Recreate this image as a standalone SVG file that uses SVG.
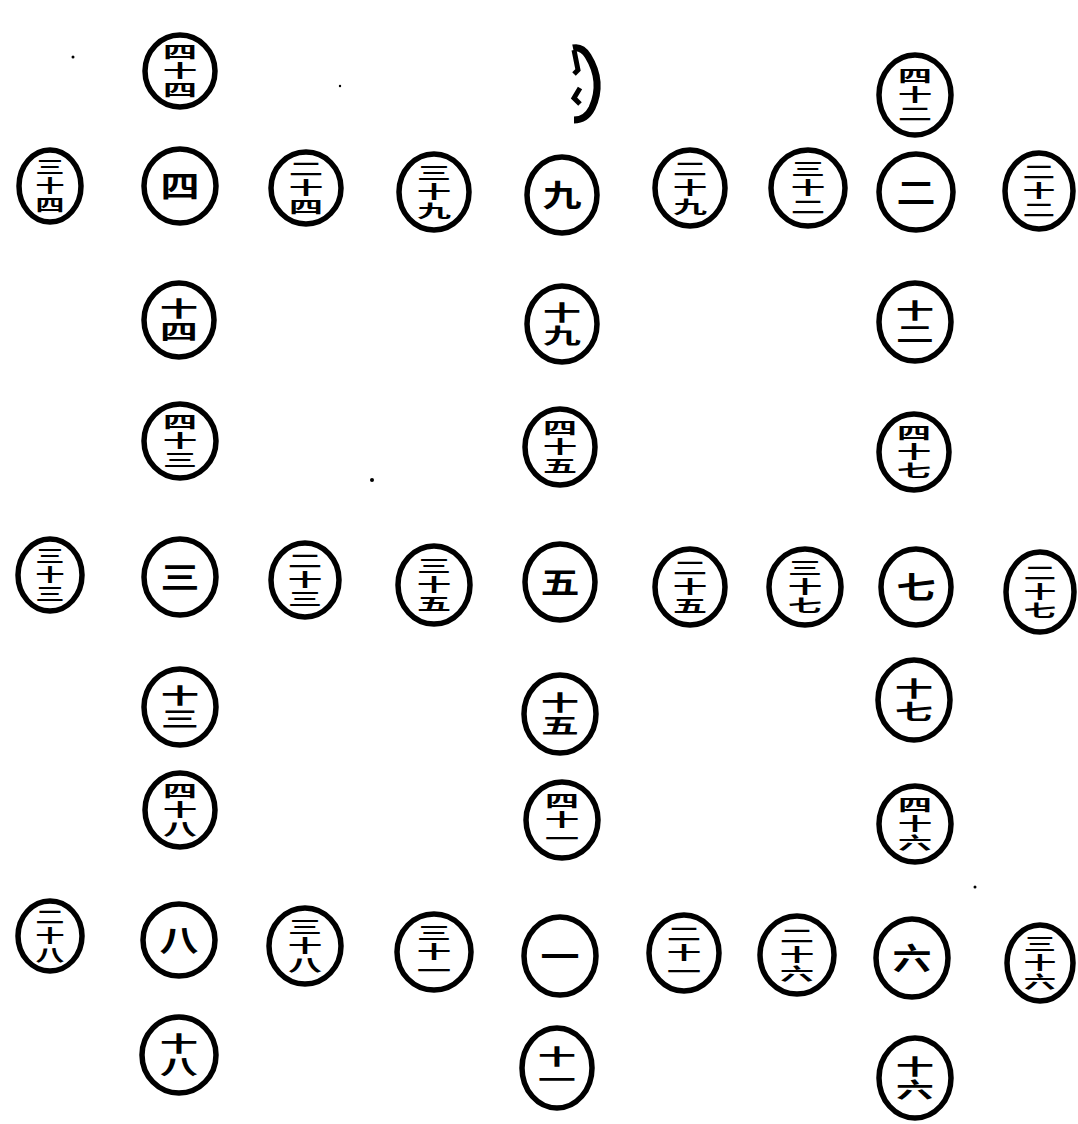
<svg xmlns="http://www.w3.org/2000/svg" width="1078" height="1124" viewBox="0 0 1078 1124">
<style>
.c{fill:#fff;stroke:#000;stroke-width:5.5}
.t{font-family:"Noto Sans CJK SC","Noto Sans CJK TC",sans-serif;font-weight:bold;fill:#000;text-anchor:middle}
.v{writing-mode:vertical-rl;text-orientation:upright;letter-spacing:2px}
.s1{font-size:30px}
.s2{font-size:21px}
.s3{font-size:17px}
</style>
<rect width="1078" height="1124" fill="#fff"/>
<g id="specks" fill="#000">
<circle cx="73" cy="57" r="1.5"/>
<circle cx="340" cy="86" r="1.2"/>
<circle cx="372" cy="480" r="2"/>
<circle cx="975" cy="887" r="1.5"/>
</g>
<g id="connectors"></g>
<!-- row 1 -->
<g id="n44" transform="translate(180,71)"><ellipse class="c" rx="35" ry="36"/><text class="t v s3" x="0" y="1" transform="scale(2 1)">四十四</text></g>
<g id="n49"><path d="M573 48 Q582 46 588 56 Q604 82 592 108 Q586 120 574 120" fill="none" stroke="#000" stroke-width="7"/><path d="M574 50 L578 70 L574 74 M580 88 L574 98 L580 104" fill="none" stroke="#000" stroke-width="5"/></g>
<g id="n42" transform="translate(915,95)"><ellipse class="c" rx="36" ry="40"/><text class="t v s3" x="0" y="1" transform="scale(2 1)">四十二</text></g>
<!-- row 2 -->
<g id="n34" transform="translate(50,186)"><ellipse class="c" rx="31" ry="36"/><text class="t v s3" x="0" y="1" transform="scale(1.7 1)">三十四</text></g>
<g id="n4" transform="translate(180,186)"><ellipse class="c" rx="36" ry="37"/><text class="t s1" transform="scale(1.3 1)" x="0" y="11">四</text></g>
<g id="n24" transform="translate(306,188)"><ellipse class="c" rx="35" ry="36"/><text class="t v s3" x="0" y="1" transform="scale(2 1)">二十四</text></g>
<g id="n39" transform="translate(434,192)"><ellipse class="c" rx="35" ry="38"/><text class="t v s3" x="0" y="1" transform="scale(2 1)">三十九</text></g>
<g id="n9" transform="translate(562,195)"><ellipse class="c" rx="35" ry="38"/><text class="t s1" transform="scale(1.3 1)" x="0" y="11">九</text></g>
<g id="n29" transform="translate(690,188)"><ellipse class="c" rx="35" ry="38"/><text class="t v s3" x="0" y="1" transform="scale(2 1)">二十九</text></g>
<g id="n32" transform="translate(808,188)"><ellipse class="c" rx="37" ry="38"/><text class="t v s3" x="0" y="1" transform="scale(2 1)">三十二</text></g>
<g id="n2" transform="translate(916,192)"><ellipse class="c" rx="37" ry="38"/><text class="t s1" transform="scale(1.3 1)" x="0" y="11">二</text></g>
<g id="n22" transform="translate(1039,191)"><ellipse class="c" rx="34" ry="38"/><text class="t v s3" x="0" y="1" transform="scale(1.9 1)">二十二</text></g>
<!-- row 3 -->
<g id="n14" transform="translate(179,320)"><ellipse class="c" rx="35" ry="37"/><text class="t v s2" x="0" y="1" transform="scale(1.8 1)">十四</text></g>
<g id="n19" transform="translate(562,324)"><ellipse class="c" rx="35" ry="38"/><text class="t v s2" x="0" y="1" transform="scale(1.8 1)">十九</text></g>
<g id="n12" transform="translate(915,322)"><ellipse class="c" rx="36" ry="39"/><text class="t v s2" x="0" y="1" transform="scale(1.8 1)">十二</text></g>
<!-- row 4 -->
<g id="n43" transform="translate(180,441)"><ellipse class="c" rx="36" ry="37"/><text class="t v s3" x="0" y="1" transform="scale(2 1)">四十三</text></g>
<g id="n45" transform="translate(560,447)"><ellipse class="c" rx="35" ry="38"/><text class="t v s3" x="0" y="1" transform="scale(2 1)">四十五</text></g>
<g id="n47" transform="translate(914,452)"><ellipse class="c" rx="35" ry="38"/><text class="t v s3" x="0" y="1" transform="scale(2 1)">四十七</text></g>
<!-- row 5 -->
<g id="n33" transform="translate(50,575)"><ellipse class="c" rx="32" ry="36"/><text class="t v s3" x="0" y="1" transform="scale(1.7 1)">三十三</text></g>
<g id="n3" transform="translate(180,577)"><ellipse class="c" rx="36" ry="38"/><text class="t s1" transform="scale(1.3 1)" x="0" y="11">三</text></g>
<g id="n23" transform="translate(305,580)"><ellipse class="c" rx="34" ry="37"/><text class="t v s3" x="0" y="1" transform="scale(2 1)">二十三</text></g>
<g id="n35" transform="translate(434,585)"><ellipse class="c" rx="36" ry="39"/><text class="t v s3" x="0" y="1" transform="scale(2 1)">三十五</text></g>
<g id="n5" transform="translate(560,582)"><ellipse class="c" rx="35" ry="38"/><text class="t s1" transform="scale(1.3 1)" x="0" y="11">五</text></g>
<g id="n25" transform="translate(690,587)"><ellipse class="c" rx="35" ry="38"/><text class="t v s3" x="0" y="1" transform="scale(2 1)">二十五</text></g>
<g id="n37" transform="translate(805,587)"><ellipse class="c" rx="36" ry="38"/><text class="t v s3" x="0" y="1" transform="scale(2 1)">三十七</text></g>
<g id="n7" transform="translate(916,587)"><ellipse class="c" rx="35" ry="38"/><text class="t s1" transform="scale(1.3 1)" x="0" y="11">七</text></g>
<g id="n27" transform="translate(1040,592)"><ellipse class="c" rx="34" ry="40"/><text class="t v s3" x="0" y="1" transform="scale(1.9 1)">二十七</text></g>
<!-- row 6 -->
<g id="n13" transform="translate(180,707)"><ellipse class="c" rx="36" ry="38"/><text class="t v s2" x="0" y="1" transform="scale(1.8 1)">十三</text></g>
<g id="n15" transform="translate(560,714)"><ellipse class="c" rx="36" ry="39"/><text class="t v s2" x="0" y="1" transform="scale(1.8 1)">十五</text></g>
<g id="n17" transform="translate(914,700)"><ellipse class="c" rx="36" ry="40"/><text class="t v s2" x="0" y="1" transform="scale(1.8 1)">十七</text></g>
<!-- row 7 -->
<g id="n48" transform="translate(180,810)"><ellipse class="c" rx="35" ry="37"/><text class="t v s3" x="0" y="1" transform="scale(2 1)">四十八</text></g>
<g id="n41" transform="translate(562,820)"><ellipse class="c" rx="36" ry="38"/><text class="t v s3" x="0" y="1" transform="scale(2 1)">四十一</text></g>
<g id="n46" transform="translate(915,824)"><ellipse class="c" rx="36" ry="38"/><text class="t v s3" x="0" y="1" transform="scale(2 1)">四十六</text></g>
<!-- row 8 -->
<g id="n28" transform="translate(50,936)"><ellipse class="c" rx="32" ry="35"/><text class="t v s3" x="0" y="1" transform="scale(1.7 1)">二十八</text></g>
<g id="n8" transform="translate(179,940)"><ellipse class="c" rx="36" ry="36"/><text class="t s1" transform="scale(1.3 1)" x="0" y="11">八</text></g>
<g id="n38" transform="translate(305,946)"><ellipse class="c" rx="36" ry="38"/><text class="t v s3" x="0" y="1" transform="scale(2 1)">三十八</text></g>
<g id="n31" transform="translate(434,952)"><ellipse class="c" rx="37" ry="38"/><text class="t v s3" x="0" y="1" transform="scale(2 1)">三十一</text></g>
<g id="n1" transform="translate(560,956)"><ellipse class="c" rx="36" ry="39"/><text class="t s1" transform="scale(1.3 1)" x="0" y="11">一</text></g>
<g id="n21" transform="translate(684,953)"><ellipse class="c" rx="35" ry="38"/><text class="t v s3" x="0" y="1" transform="scale(2 1)">二十一</text></g>
<g id="n26" transform="translate(797,955)"><ellipse class="c" rx="37" ry="39"/><text class="t v s3" x="0" y="1" transform="scale(2 1)">二十六</text></g>
<g id="n6" transform="translate(912,958)"><ellipse class="c" rx="36" ry="39"/><text class="t s1" transform="scale(1.3 1)" x="0" y="11">六</text></g>
<g id="n36" transform="translate(1040,963)"><ellipse class="c" rx="33" ry="38"/><text class="t v s3" x="0" y="1" transform="scale(1.9 1)">三十六</text></g>
<!-- row 9 -->
<g id="n18" transform="translate(179,1055)"><ellipse class="c" rx="37" ry="38"/><text class="t v s2" x="0" y="1" transform="scale(1.8 1)">十八</text></g>
<g id="n11" transform="translate(557,1068)"><ellipse class="c" rx="35" ry="40"/><text class="t v s2" x="0" y="1" transform="scale(1.8 1)">十一</text></g>
<g id="n16" transform="translate(915,1078)"><ellipse class="c" rx="36" ry="40"/><text class="t v s2" x="0" y="1" transform="scale(1.8 1)">十六</text></g>
</svg>
